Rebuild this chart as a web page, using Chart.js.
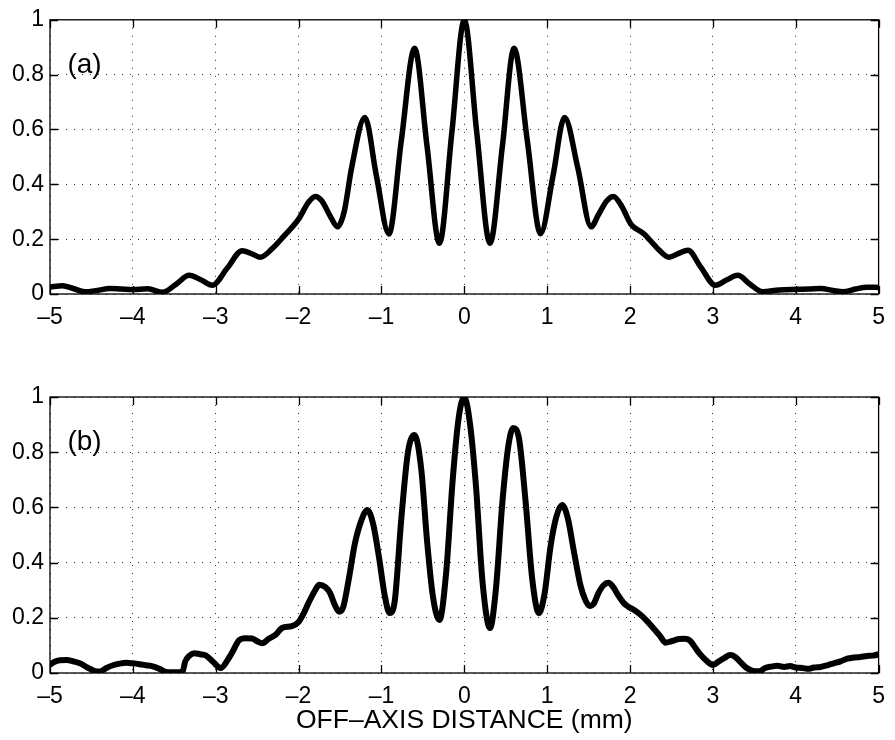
<!DOCTYPE html>
<html>
<head>
<meta charset="utf-8">
<title>Off-axis intensity profiles</title>
<script src="https://cdn.jsdelivr.net/npm/chart.js@4.4.1/dist/chart.umd.min.js"></script>
<style>
  html, body { margin: 0; padding: 0; background: #fff; }
  #wrap { position: relative; width: 895px; height: 740px; }
  #panel-a { position: absolute; left: 0; top: 0; }
  #panel-b { position: absolute; left: 0; top: 360px; }
</style>
</head>
<body>
<div id="wrap">
  <canvas id="panel-a" width="895" height="340"></canvas>
  <canvas id="panel-b" width="895" height="380"></canvas>
</div>
<script>
// (a) computed profile
const offsetA = [
  -5.00, -4.85, -4.72, -4.58, -4.43, -4.28, -4.14, -4.00, -3.82, -3.64,
  -3.48, -3.32, -3.18, -3.04, -2.86, -2.68, -2.56, -2.46, -2.32, -2.18,
  -2.00, -1.88, -1.80, -1.72, -1.62, -1.53, -1.45, -1.36, -1.20, -1.06,
  -0.91, -0.76, -0.60, -0.45, -0.30, -0.15, 0.00, 0.15, 0.31, 0.46,
  0.60, 0.76, 0.92, 1.07, 1.21, 1.37, 1.53, 1.62, 1.72, 1.80,
  1.90, 2.01, 2.17, 2.32, 2.47, 2.58, 2.70, 2.85, 3.03, 3.17,
  3.30, 3.45, 3.60, 3.80, 4.02, 4.16, 4.30, 4.45, 4.57, 4.72,
  4.86, 5.00
];
const intensityA = [
  0.025, 0.030, 0.020, 0.008, 0.013, 0.020, 0.018, 0.016, 0.019, 0.006,
  0.035, 0.068, 0.052, 0.032, 0.095, 0.158, 0.146, 0.134, 0.165, 0.210,
  0.273, 0.335, 0.356, 0.340, 0.285, 0.245, 0.300, 0.460, 0.644, 0.430,
  0.219, 0.560, 0.896, 0.540, 0.185, 0.590, 1.000, 0.590, 0.185, 0.540,
  0.896, 0.560, 0.220, 0.430, 0.644, 0.460, 0.245, 0.290, 0.340, 0.356,
  0.320, 0.255, 0.219, 0.170, 0.134, 0.147, 0.160, 0.100, 0.032, 0.052,
  0.068, 0.035, 0.008, 0.015, 0.017, 0.018, 0.020, 0.013, 0.008, 0.018,
  0.025, 0.024
];

// (b) measured profile
const offsetB = [
  -5.00, -4.95, -4.88, -4.80, -4.72, -4.64, -4.55, -4.47, -4.40, -4.32,
  -4.24, -4.16, -4.08, -4.00, -3.92, -3.84, -3.76, -3.68, -3.60, -3.52,
  -3.44, -3.40, -3.37, -3.32, -3.26, -3.19, -3.12, -3.03, -2.94, -2.86,
  -2.80, -2.72, -2.64, -2.56, -2.50, -2.44, -2.36, -2.28, -2.20, -2.08,
  -2.00, -1.94, -1.88, -1.80, -1.75, -1.68, -1.62, -1.56, -1.51, -1.46,
  -1.40, -1.32, -1.24, -1.17, -1.10, -1.03, -0.96, -0.90, -0.84, -0.76,
  -0.68, -0.60, -0.52, -0.45, -0.38, -0.30, -0.22, -0.14, -0.07, 0.00,
  0.07, 0.14, 0.22, 0.31, 0.38, 0.46, 0.53, 0.59, 0.66, 0.74,
  0.82, 0.90, 0.97, 1.04, 1.11, 1.18, 1.25, 1.32, 1.40, 1.46,
  1.51, 1.56, 1.62, 1.68, 1.74, 1.80, 1.86, 1.92, 1.98, 2.05,
  2.13, 2.20, 2.28, 2.36, 2.43, 2.50, 2.59, 2.66, 2.72, 2.78,
  2.84, 2.92, 3.00, 3.07, 3.14, 3.21, 3.27, 3.33, 3.40, 3.48,
  3.56, 3.63, 3.70, 3.78, 3.86, 3.93, 4.00, 4.08, 4.15, 4.22,
  4.30, 4.38, 4.46, 4.54, 4.62, 4.70, 4.78, 4.86, 4.93, 5.00
];
const intensityB = [
  0.030, 0.040, 0.046, 0.047, 0.042, 0.035, 0.020, 0.008, 0.005, 0.018,
  0.028, 0.034, 0.037, 0.035, 0.032, 0.028, 0.024, 0.015, 0.004, 0.003,
  0.003, 0.005, 0.040, 0.062, 0.072, 0.068, 0.064, 0.040, 0.018, 0.045,
  0.075, 0.118, 0.126, 0.125, 0.115, 0.108, 0.124, 0.138, 0.163, 0.170,
  0.185, 0.215, 0.254, 0.300, 0.320, 0.312, 0.290, 0.245, 0.222, 0.240,
  0.330, 0.470, 0.555, 0.591, 0.540, 0.420, 0.280, 0.217, 0.260, 0.560,
  0.800, 0.862, 0.740, 0.480, 0.280, 0.192, 0.360, 0.700, 0.920, 1.000,
  0.900, 0.680, 0.330, 0.163, 0.300, 0.620, 0.820, 0.888, 0.850, 0.620,
  0.340, 0.217, 0.290, 0.457, 0.565, 0.609, 0.560, 0.445, 0.320, 0.265,
  0.243, 0.250, 0.290, 0.318, 0.327, 0.310, 0.280, 0.255, 0.240, 0.228,
  0.210, 0.190, 0.163, 0.135, 0.110, 0.115, 0.123, 0.124, 0.118, 0.095,
  0.070, 0.045, 0.029, 0.042, 0.055, 0.065, 0.058, 0.040, 0.020, 0.008,
  0.006, 0.018, 0.023, 0.026, 0.022, 0.025, 0.020, 0.018, 0.015, 0.020,
  0.022, 0.028, 0.035, 0.042, 0.052, 0.056, 0.058, 0.062, 0.063, 0.068
];

const xTicks = [-5, -4, -3, -2, -1, 0, 1, 2, 3, 4, 5];
const yTicks = [0, 0.2, 0.4, 0.6, 0.8, 1];

const FONT = "'Liberation Sans', Arial, Helvetica, sans-serif";

// box, inward ticks on all four sides, and the panel tag
const framePlugin = {
  id: 'frame',
  afterDatasetsDraw(chart, args, opts) {
    const { ctx, chartArea: a, scales: { x, y } } = chart;
    const len = 8;
    ctx.save();
    ctx.strokeStyle = '#000';
    ctx.lineWidth = 1.3;
    ctx.strokeRect(a.left, a.top, a.right - a.left, a.bottom - a.top);
    ctx.beginPath();
    xTicks.forEach(v => {
      const px = Math.round(x.getPixelForValue(v)) + 0.5;
      ctx.moveTo(px, a.bottom); ctx.lineTo(px, a.bottom - len);
      ctx.moveTo(px, a.top); ctx.lineTo(px, a.top + len);
    });
    yTicks.forEach(v => {
      const py = Math.round(y.getPixelForValue(v)) + 0.5;
      ctx.moveTo(a.left, py); ctx.lineTo(a.left + len, py);
      ctx.moveTo(a.right, py); ctx.lineTo(a.right - len, py);
    });
    ctx.stroke();
    ctx.fillStyle = '#000';
    ctx.font = '28px ' + FONT;
    ctx.textAlign = 'left';
    ctx.textBaseline = 'middle';
    ctx.fillText(opts.tag, x.getPixelForValue(opts.at[0]), y.getPixelForValue(opts.at[1]));
    ctx.restore();
  }
};

function makePanel(canvasId, xs, ys, opts) {
  const points = xs.map((x, i) => ({ x: x, y: ys[i] }));
  return new Chart(document.getElementById(canvasId), {
    type: 'line',
    data: {
      datasets: [{
        data: points,
        borderColor: '#000',
        borderWidth: opts.lineWidth,
        borderJoinStyle: 'round',
        borderCapStyle: 'round',
        cubicInterpolationMode: 'monotone',
        pointRadius: 0,
        fill: false
      }]
    },
    options: {
      responsive: false,
      animation: false,
      events: [],
      layout: { padding: { top: opts.padTop, right: 11, bottom: 0, left: 0 } },
      plugins: {
        legend: { display: false },
        tooltip: { enabled: false },
        frame: { tag: opts.tag, at: [-4.79, 0.835] }
      },
      scales: {
        x: {
          type: 'linear',
          min: -5,
          max: 5,
          afterFit: s => { s.height = opts.xHeight; },
          afterBuildTicks: s => { s.ticks = xTicks.map(v => ({ value: v })); },
          ticks: {
            color: '#000',
            padding: 10,
            maxRotation: 0,
            font: { family: FONT, size: 23 },
            callback: v => (v < 0 ? '\u2013' + Math.abs(v) : String(v))
          },
          grid: { color: '#333', lineWidth: 1, drawTicks: false },
          border: { display: false, dash: [1, 7] },
          title: {
            display: !!opts.xTitle,
            text: opts.xTitle || '',
            color: '#000',
            font: { family: FONT, size: 26.5 },
            padding: { top: 0, bottom: 3 }
          }
        },
        y: {
          type: 'linear',
          min: 0,
          max: 1,
          afterFit: s => { s.width = 50; },
          afterBuildTicks: s => { s.ticks = yTicks.map(v => ({ value: v })); },
          ticks: {
            color: '#000',
            padding: 6,
            font: { family: FONT, size: 23 },
            callback: v => String(Number(v.toFixed(1)))
          },
          grid: { color: '#333', lineWidth: 1, drawTicks: false },
          border: { display: false, dash: [1, 7] }
        }
      }
    },
    plugins: [framePlugin]
  });
}

makePanel('panel-a', offsetA, intensityA, { tag: '(a)', lineWidth: 5.5, padTop: 16, xHeight: 46 });
makePanel('panel-b', offsetB, intensityB, {
  tag: '(b)', lineWidth: 6, padTop: 37, xHeight: 67,
  xTitle: 'OFF\u2013AXIS DISTANCE (mm)'
});
</script>
</body>
</html>
